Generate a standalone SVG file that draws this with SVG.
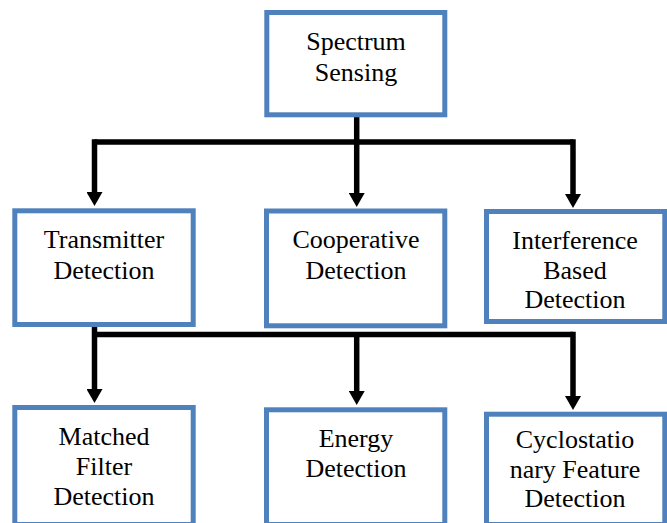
<svg xmlns="http://www.w3.org/2000/svg" width="667" height="523" viewBox="0 0 667 523">
<style>
.box{fill:#ffffff;stroke:#4f81bd;stroke-width:5}
.lbl{font-family:"Liberation Serif","Times New Roman",serif;font-size:26px;fill:#000000;text-anchor:middle}
.con{fill:none;stroke:#000000;stroke-width:5.5;stroke-linejoin:miter;stroke-linecap:butt}
.arr{fill:none;stroke:#000000;stroke-width:5.5;marker-end:url(#ah)}
</style>
<defs>
<marker id="ah" markerUnits="userSpaceOnUse" viewBox="0 0 14 16" markerWidth="14" markerHeight="16" refX="2" refY="8" orient="auto">
<path d="M0,0 L14,8 L0,16 z" fill="#000000"/>
</marker>
</defs>
<rect width="667" height="523" fill="#ffffff"/>
<g id="connectors">
<path class="con" d="M356.7,117 V142 M94.5,142 H573"/>
<path class="arr" d="M94.5,139.25 V194"/>
<path class="arr" d="M356.7,142 V195"/>
<path class="arr" d="M573,139.25 V196"/>
<path class="con" d="M94.5,334.5 H573"/>
<path class="arr" d="M94.5,327 V391"/>
<path class="arr" d="M356.7,334.5 V393"/>
<path class="arr" d="M573,331.75 V398"/>
</g>
<g id="spectrum-sensing">
<rect class="box" x="266.8" y="12.5" width="178" height="102.3"/>
<text class="lbl" x="356" y="50">Spectrum</text>
<text class="lbl" x="356" y="81">Sensing</text>
</g>
<g id="transmitter-detection">
<rect class="box" x="14.8" y="210.8" width="178.4" height="113.7"/>
<text class="lbl" x="104" y="248.3">Transmitter</text>
<text class="lbl" x="104" y="279.3">Detection</text>
</g>
<g id="cooperative-detection">
<rect class="box" x="266.5" y="211" width="178.3" height="114.8"/>
<text class="lbl" x="356" y="248.3">Cooperative</text>
<text class="lbl" x="356" y="279.3">Detection</text>
</g>
<g id="interference-based-detection">
<rect class="box" x="486.5" y="211.5" width="178.3" height="110"/>
<text class="lbl" x="575" y="249.3">Interference</text>
<text class="lbl" x="575" y="279">Based</text>
<text class="lbl" x="575" y="308.3">Detection</text>
</g>
<g id="matched-filter-detection">
<rect class="box" x="14.8" y="407.5" width="178.4" height="117"/>
<text class="lbl" x="104" y="445">Matched</text>
<text class="lbl" x="104" y="475">Filter</text>
<text class="lbl" x="104" y="505">Detection</text>
</g>
<g id="energy-detection">
<rect class="box" x="266.5" y="409.8" width="178.3" height="114.7"/>
<text class="lbl" x="356" y="446.7">Energy</text>
<text class="lbl" x="356" y="477.3">Detection</text>
</g>
<g id="cyclostationary-feature-detection">
<rect class="box" x="486.5" y="414.2" width="178.3" height="110.3"/>
<text class="lbl" x="575" y="448.3">Cyclostatio</text>
<text class="lbl" x="575" y="478.3">nary Feature</text>
<text class="lbl" x="575" y="507.3">Detection</text>
</g>
</svg>
